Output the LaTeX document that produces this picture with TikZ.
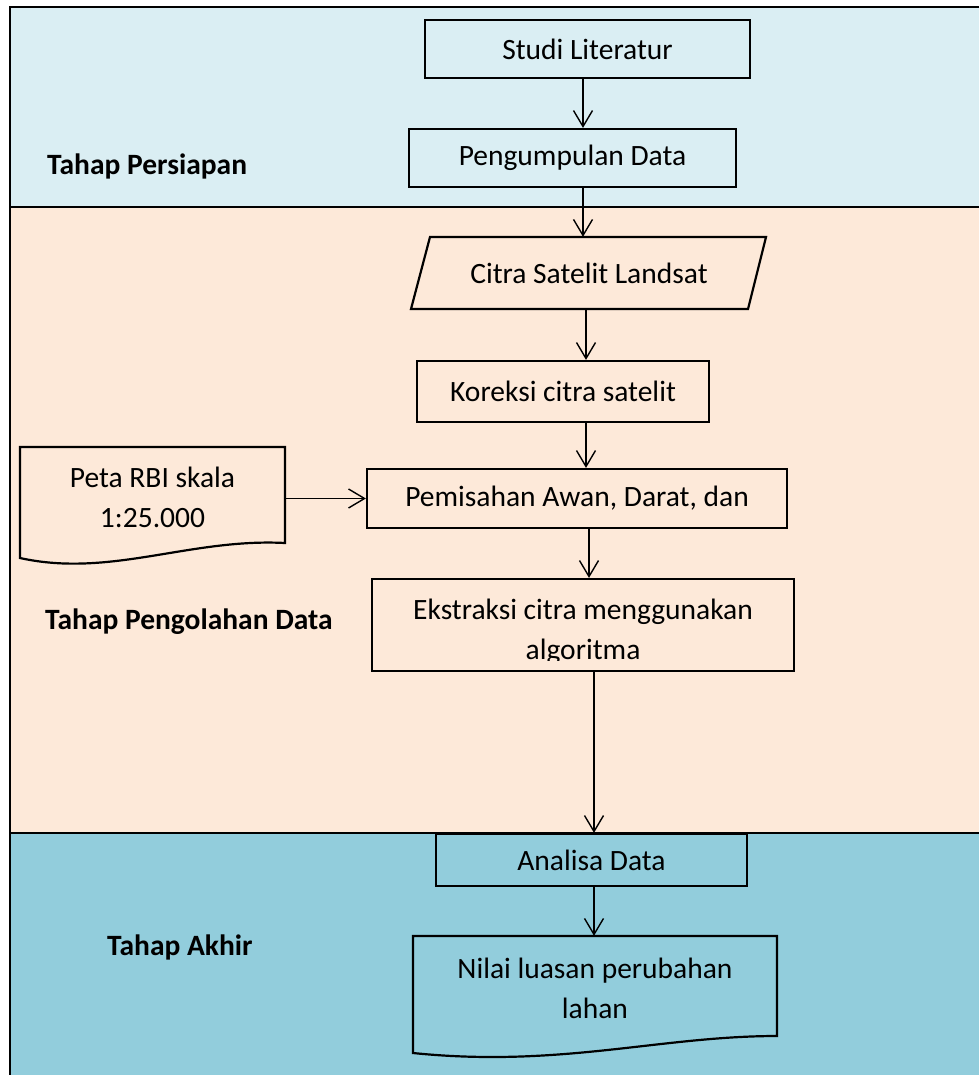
\documentclass[tikz,border=0pt]{standalone}
\usepackage{fontspec}
\setmainfont{Carlito}
\usetikzlibrary{arrows.meta,calc}
\definecolor{bandA}{HTML}{DAEEF3}
\definecolor{bandB}{HTML}{FDE9D9}
\definecolor{bandC}{HTML}{92CDDC}
\begin{document}
\begin{tikzpicture}[x=1pt,y=-1pt,
  box/.style={draw,line width=2.2pt,inner sep=0pt},
  ghost/.style={inner sep=0pt},
  arr/.style={-{Straight Barb[length=16pt,width=19pt]},line width=1.4pt},
  lbl/.style={font=\fontsize{29.5}{38}\selectfont\bfseries,anchor=west,inner sep=0pt},
  txt/.style={font=\fontsize{29.5}{40}\selectfont,align=center},
  shapeline/.style={line width=2.2pt,line join=miter}]
\useasboundingbox (0,0) rectangle (979,1075);
% bands
\fill[bandA] (10,7) rectangle (979,207);
\fill[bandB] (10,207) rectangle (979,833);
\fill[bandC] (10,833) rectangle (979,1075);
\draw[line width=2pt] (979,7) -- (10,7) -- (10,1075);
\draw[line width=2pt] (10,207) -- (979,207);
\draw[line width=2pt] (10,833) -- (979,833);
% labels
\node[lbl] (l1) at (47,166) {Tahap Persiapan};
\node[lbl] (l2) at (45,622) {Tahap Pengolahan Data};
\node[lbl] (l3) at (107,947) {Tahap Akhir};
% nodes
\node[box,txt,minimum width=325pt,minimum height=58pt] (studi) at (587.5,49) {Studi Literatur};
\node[box,txt,minimum width=327pt,minimum height=58pt] (peng) at (572.5,158) {Pengumpulan Data};
\node[ghost,txt,minimum width=336pt,minimum height=72pt] (citra) at (589,273) {Citra Satelit Landsat};
\draw[shapeline] (430,237) -- (766,237) -- (748,309) -- (411,309) -- cycle;
\node[box,txt,minimum width=292pt,minimum height=61pt] (kor) at (563,391.5) {Koreksi citra satelit};
\node[box,txt,minimum width=420pt,minimum height=59pt] (pem) at (577,498.5) {Pemisahan Awan, Darat, dan};
\node[box,minimum width=422pt,minimum height=92pt] (eks) at (583,625) {};
\begin{scope}
\clip (372,578) rectangle (794,660);
\node[ghost,txt] (ekst) at (583,632) {Ekstraksi citra menggunakan\\algoritma};
\end{scope}
\node[box,txt,minimum width=311pt,minimum height=52pt] (anal) at (591.5,860) {Analisa Data};
\node[ghost,txt,minimum width=265pt,minimum height=96pt] (peta) at (152.5,497) {Peta RBI skala\\1:25.000};
\draw[shapeline] (20,447) -- (285,447) -- (285,543) .. controls (190,538) and (110,578) .. (20,558) -- cycle;
\node[ghost,txt,minimum width=364pt,minimum height=104pt] (nilai) at (595,988) {Nilai luasan perubahan\\lahan};
\draw[shapeline] (413,936) -- (777,936) -- (777,1036) .. controls (660,1036) and (560,1068) .. (413,1053) -- cycle;
% connectors
\draw[arr] ([xshift=-4.5pt]studi.south) -- ([xshift=-4.5pt]studi.south |- peng.north);
\draw[arr] ([xshift=10.5pt]peng.south) -- ([xshift=10.5pt]peng.south |- citra.north);
\draw[arr] ([xshift=-3pt]citra.south) -- ([xshift=-3pt]citra.south |- kor.north);
\draw[arr] ([xshift=23pt]kor.south) -- ([xshift=23pt]kor.south |- pem.north);
\draw[arr] (peta.east |- pem.west) -- (pem.west);
\draw[arr] ([xshift=12pt]pem.south) -- ([xshift=12pt]pem.south |- eks.north);
\draw[arr] ([xshift=11pt]eks.south) -- ([xshift=11pt]eks.south |- anal.north);
\draw[arr] ([xshift=2.5pt]anal.south) -- ([xshift=2.5pt]anal.south |- nilai.north);
\end{tikzpicture}
\end{document}
